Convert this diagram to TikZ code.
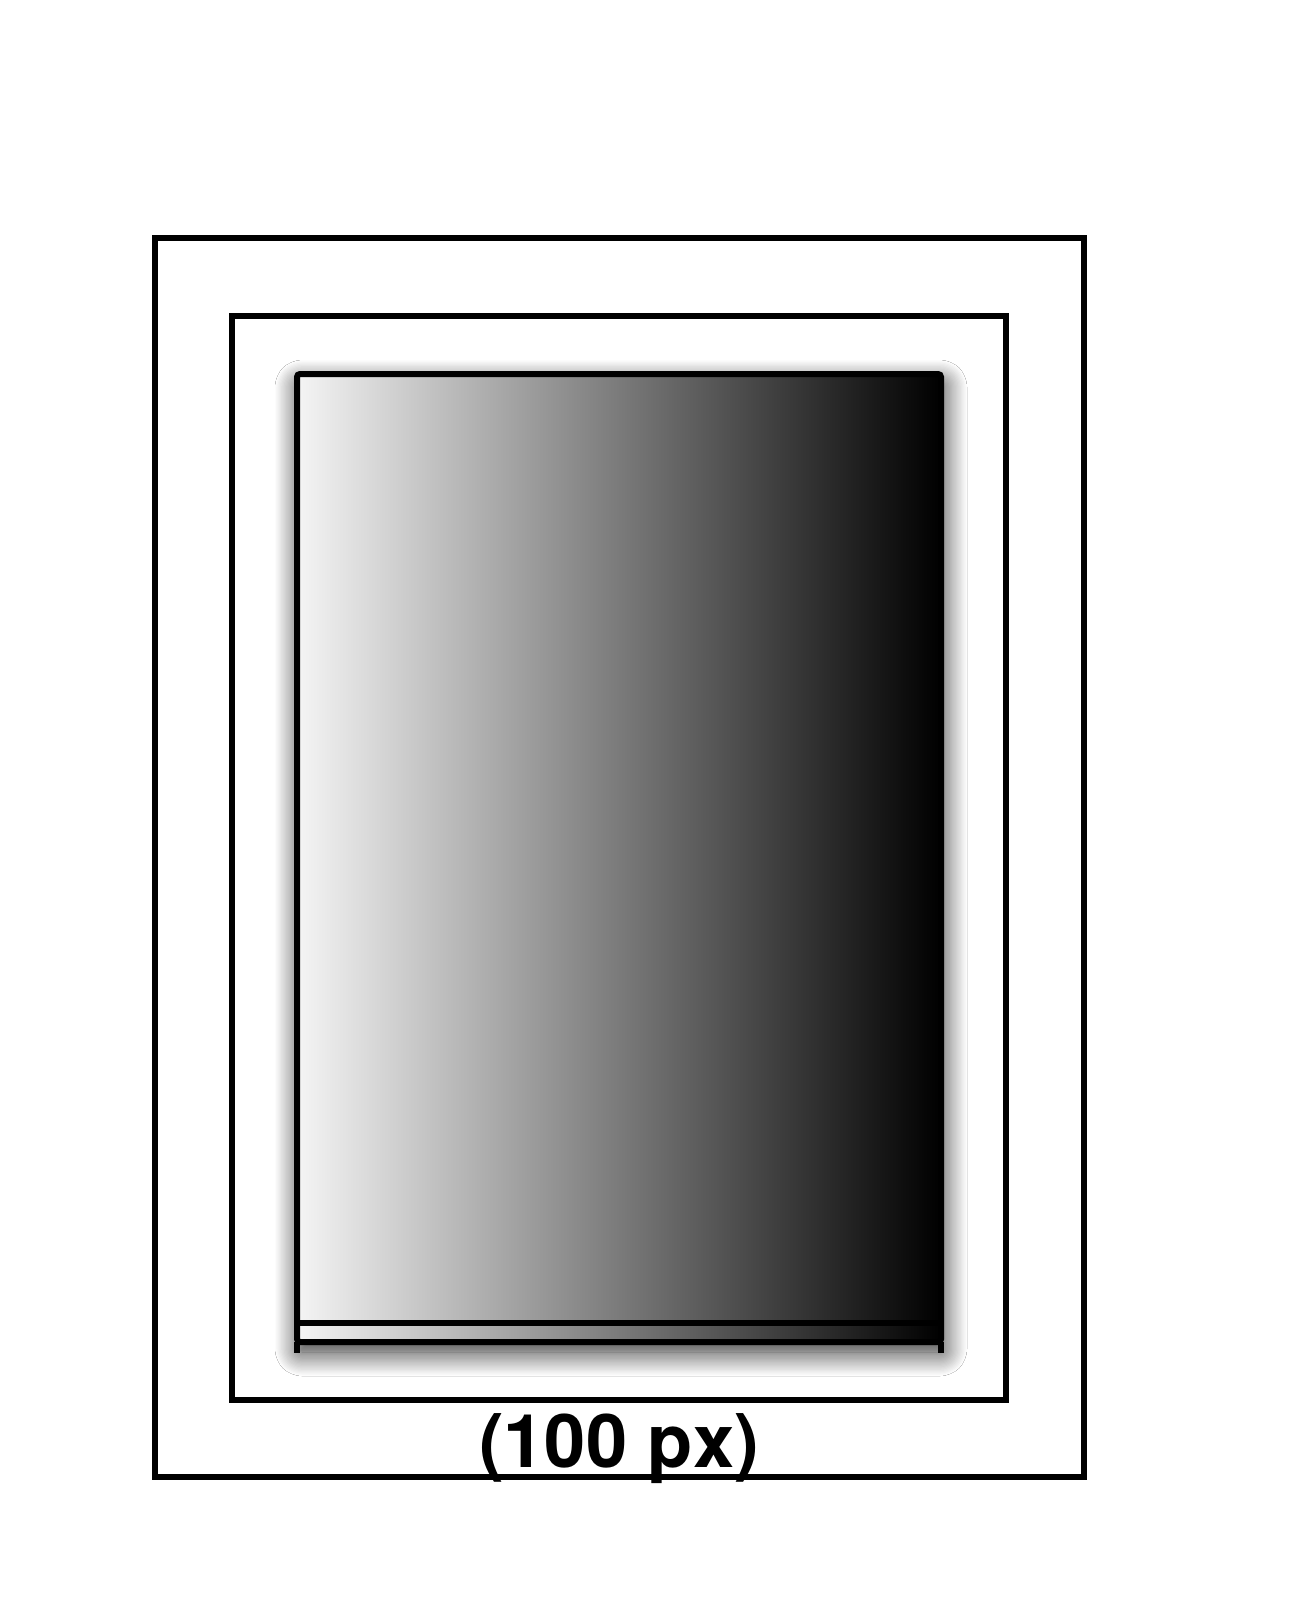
\documentclass[tikz,border=0pt]{standalone}
\usepackage{fontspec}
\setmainfont{TeX Gyre Heros}
\usetikzlibrary{shadows.blur}
\tikzset{
  frame/.style={draw=black, line width=6pt, inner sep=0pt, outer sep=0pt},
  cabinet/.style={draw=black, line width=6pt, inner sep=0pt, outer sep=0pt,
    rounded corners=3pt,
    left color=white!96!black, right color=black,
    blur shadow={shadow xshift=2pt, shadow yshift=-10pt, shadow blur radius=24pt, shadow blur steps=20, shadow opacity=85}},
  cabline/.style={line width=6pt, black},
  lbl/.style={font=\bfseries\fontsize{74}{80}\selectfont, inner sep=0pt, anchor=base}
}
\begin{document}
\begin{tikzpicture}[x=1pt,y=-1pt]
\useasboundingbox[fill=white] (0,0) rectangle (1291,1613);
\node[frame, minimum width=929pt, minimum height=1239pt] (outer) at (619.5,857.5) {};
\node[frame, minimum width=774pt, minimum height=1084pt] (middle) at (619,858) {};
\node[cabinet, minimum width=644pt, minimum height=968pt] (cab) at (619,858) {};
\coordinate (bl) at (cab.south west);
\coordinate (br) at (cab.south east);
\draw[cabline] ([yshift=19pt]bl) -- ([yshift=19pt]br);
\draw[cabline] (bl) -- ([yshift=-11pt]bl);
\draw[cabline] (br) -- ([yshift=-11pt]br);
\node[lbl] (label) at (619,1467) {(100 px)};
\end{tikzpicture}
\end{document}
